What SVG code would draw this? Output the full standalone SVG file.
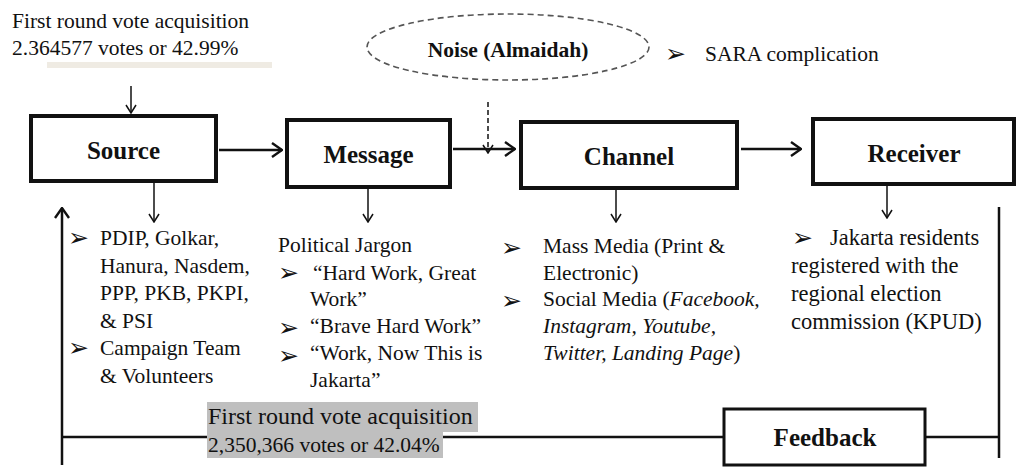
<svg xmlns="http://www.w3.org/2000/svg" width="1018" height="468" viewBox="0 0 1018 468">
  <style>
    .t { font-family: "Liberation Serif", "Times New Roman", serif; font-size: 21.5px; fill: #111; }
    .lbl { font-family: "Liberation Serif", "Times New Roman", serif; font-weight: bold; font-size: 25px; fill: #111; text-anchor: middle; }
    .bul { font-family: "DejaVu Sans", sans-serif; font-size: 25px; fill: #111; }
    .box { fill: #fff; stroke: #111; stroke-width: 4; }
    .line { fill: none; stroke: #111; stroke-width: 2.5; }
    .thin { fill: none; stroke: #111; stroke-width: 1.5; }
    .it { font-style: italic; }
  </style>
  <defs>
    <marker id="chevL" viewBox="0 0 12 16" refX="11" refY="8" markerWidth="12" markerHeight="16" orient="auto" markerUnits="userSpaceOnUse">
      <path d="M1 1 L11 8 L1 15" fill="none" stroke="#111" stroke-width="2.4"/>
    </marker>
    <marker id="chevS" viewBox="0 0 10 12" refX="9" refY="6" markerWidth="10" markerHeight="12" orient="auto" markerUnits="userSpaceOnUse">
      <path d="M1 1 L9 6 L1 11" fill="none" stroke="#111" stroke-width="1.5"/>
    </marker>
  </defs>

  <!-- vote count above the source -->
  <g id="first-round-top">
    <rect x="47" y="62" width="225" height="6" fill="#efebe3"/>
    <text class="t" x="12" y="28">First round vote acquisition</text>
    <text class="t" x="12" y="55">2.364577 votes or 42.99%</text>
  </g>

  <!-- noise -->
  <g id="noise">
    <ellipse cx="508" cy="47" rx="141" ry="33" fill="none" stroke="#555" stroke-width="1.6" stroke-dasharray="6 4"/>
    <text class="lbl" x="508" y="57" style="font-size:21.5px">Noise (Almaidah)</text>
  </g>
  <g id="sara">
    <text class="bul" x="665" y="62">➢</text>
    <text class="t" x="705" y="61">SARA complication</text>
  </g>

  <!-- connectors -->
  <g id="connectors">
    <line class="thin" x1="131" y1="86" x2="131" y2="113" marker-end="url(#chevS)"/>
    <line class="line" x1="219" y1="150" x2="282" y2="150" marker-end="url(#chevL)"/>
    <line class="line" x1="453" y1="149" x2="515" y2="149" marker-end="url(#chevL)"/>
    <line class="line" x1="741" y1="149" x2="801" y2="149" marker-end="url(#chevL)"/>
    <line class="thin" x1="488" y1="102" x2="488" y2="153" stroke-dasharray="5 3" marker-end="url(#chevS)"/>
    <line class="thin" x1="154" y1="183" x2="154" y2="222" marker-end="url(#chevS)"/>
    <line class="thin" x1="368" y1="189" x2="368" y2="222" marker-end="url(#chevS)"/>
    <line class="thin" x1="616" y1="190" x2="616" y2="222" marker-end="url(#chevS)"/>
    <line class="thin" x1="887" y1="186" x2="887" y2="218" marker-end="url(#chevS)"/>
    <!-- feedback loop -->
    <line class="line" x1="999" y1="207" x2="999" y2="458"/>
    <line class="line" x1="999" y1="437" x2="926" y2="437"/>
    <line class="line" x1="723" y1="437" x2="62" y2="437"/>
    <line class="line" x1="62" y1="465" x2="62" y2="208" marker-end="url(#chevL)"/>
  </g>

  <!-- main chain -->
  <g id="source">
    <rect class="box" x="31" y="116" width="185" height="65"/>
    <text class="lbl" x="123.5" y="159">Source</text>
  </g>
  <g id="message">
    <rect class="box" x="287" y="120" width="163" height="67"/>
    <text class="lbl" x="368.5" y="163">Message</text>
  </g>
  <g id="channel">
    <rect class="box" x="521" y="122" width="216" height="66"/>
    <text class="lbl" x="629" y="165">Channel</text>
  </g>
  <g id="receiver">
    <rect class="box" x="813" y="119" width="201" height="65"/>
    <text class="lbl" x="914" y="162">Receiver</text>
  </g>
  <g id="feedback">
    <rect class="box" x="724" y="409" width="201" height="56" style="stroke-width:3"/>
    <text class="lbl" x="825" y="446">Feedback</text>
  </g>

  <!-- source details -->
  <g id="source-list">
    <text class="bul" x="68" y="246">➢</text>
    <text class="bul" x="68" y="356">➢</text>
    <text class="t" x="100" y="245">PDIP, Golkar,</text>
    <text class="t" x="100" y="272.5">Hanura, Nasdem,</text>
    <text class="t" x="100" y="300">PPP, PKB, PKPI,</text>
    <text class="t" x="100" y="327.5">&amp; PSI</text>
    <text class="t" x="100" y="355">Campaign Team</text>
    <text class="t" x="100" y="382.5">&amp; Volunteers</text>
  </g>

  <!-- message details -->
  <g id="message-list">
    <text class="t" x="278" y="252">Political Jargon</text>
    <text class="bul" x="278" y="281">➢</text>
    <text class="bul" x="278" y="336">➢</text>
    <text class="bul" x="278" y="364">➢</text>
    <text class="t" x="313" y="280">“Hard Work, Great</text>
    <text class="t" x="310" y="306">Work”</text>
    <text class="t" x="310" y="333">“Brave Hard Work”</text>
    <text class="t" x="310" y="360">“Work, Now This is</text>
    <text class="t" x="310" y="387">Jakarta”</text>
  </g>

  <!-- channel details -->
  <g id="channel-list">
    <text class="bul" x="501" y="256">➢</text>
    <text class="bul" x="501" y="309">➢</text>
    <text class="t" x="543" y="253">Mass Media (Print  &amp;</text>
    <text class="t" x="543" y="279.5">Electronic)</text>
    <text class="t" x="543" y="306">Social Media (<tspan class="it">Facebook,</tspan></text>
    <text class="t it" x="543" y="333">Instagram, Youtube,</text>
    <text class="t" x="543" y="360"><tspan class="it">Twitter, Landing Page</tspan>)</text>
  </g>

  <!-- receiver details -->
  <g id="receiver-list">
    <text class="bul" x="792" y="246">➢</text>
    <text class="t" x="830" y="245" style="font-size:22.5px">Jakarta residents</text>
    <text class="t" x="791" y="273" style="font-size:22.5px">registered with the</text>
    <text class="t" x="791" y="301" style="font-size:22.5px">regional election</text>
    <text class="t" x="791" y="329" style="font-size:22.5px">commission (KPUD)</text>
  </g>

  <!-- vote count on the feedback path -->
  <g id="first-round-bottom">
    <rect x="207" y="402" width="271" height="30" fill="#bfbfbf"/>
    <rect x="207" y="432" width="236" height="26" fill="#bfbfbf"/>
    <text class="t" x="208" y="424" style="font-size:24px">First round vote acquisition</text>
    <text class="t" x="208" y="452">2,350,366 votes or 42.04%</text>
  </g>
</svg>
